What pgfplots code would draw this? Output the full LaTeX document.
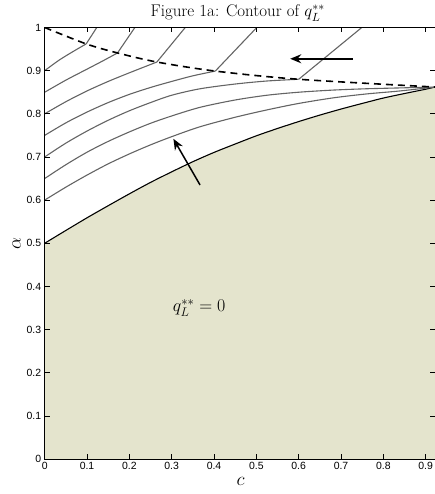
\documentclass[border=0pt]{standalone}
\usepackage{fix-cm}
\usepackage{pgfplots}
\pgfplotsset{compat=1.18}
\usepackage{fontspec}
\usetikzlibrary{arrows.meta}
\newfontfamily\ticksf{Liberation Sans}
\definecolor{regionfill}{RGB}{228,228,205}
\definecolor{contourgray}{RGB}{100,100,100}

\begin{document}
\begin{tikzpicture}
\useasboundingbox (-44.7bp,-35bp) rectangle (390.3bp,459bp);
\begin{axis}[
  name=main,
  scale only axis,
  width=390.3bp, height=431.5bp,
  xmin=0, xmax=0.922, ymin=0, ymax=1,
  axis line style={line width=0.9bp},
  xtick={0,0.1,0.2,0.3,0.4,0.5,0.6,0.7,0.8,0.9},
  xticklabels={0,0.1,0.2,0.3,0.4,0.5,0.6,0.7,0.8,0.9},
  ytick={0,0.1,0.2,0.3,0.4,0.5,0.6,0.7,0.8,0.9,1},
  yticklabels={0,0.1,0.2,0.3,0.4,0.5,0.6,0.7,0.8,0.9,1},
  tick align=inside,
  major tick length=5bp,
  tick style={black, line width=0.6bp},
  tick label style={font=\ticksf\fontsize{10.5}{12}\selectfont},
  /pgf/number format/assume math mode=true,
  xlabel={$c$},
  xlabel style={font=\fontsize{19}{22}\selectfont, at={(axis description cs:0.502,-0.052)}, anchor=center},
  ylabel={$\alpha$},
  ylabel style={font=\fontsize{19}{22}\selectfont, at={(axis description cs:-0.072,0.5)}, anchor=center, rotate=0},
  axis on top,
  clip=true,
]
% region where q_L^{**} = 0
\addplot[fill=regionfill, draw=none, smooth] coordinates {
  (0,0.5) (0.05,0.5297) (0.1,0.559) (0.15,0.587) (0.2,0.6145) (0.25,0.641)
  (0.3,0.6655) (0.35,0.689) (0.4,0.7105) (0.45,0.730) (0.5,0.749) (0.55,0.766)
  (0.6,0.782) (0.65,0.797) (0.7,0.811) (0.75,0.824) (0.8,0.8365) (0.85,0.847)
  (0.9,0.857) (0.922,0.862)
} \closedcycle;
% boundary
\addplot[black, line width=1.1bp, smooth] coordinates {
  (0,0.5) (0.05,0.5297) (0.1,0.559) (0.15,0.587) (0.2,0.6145) (0.25,0.641)
  (0.3,0.6655) (0.35,0.689) (0.4,0.7105) (0.45,0.730) (0.5,0.749) (0.55,0.766)
  (0.6,0.782) (0.65,0.797) (0.7,0.811) (0.75,0.824) (0.8,0.8365) (0.85,0.847)
  (0.9,0.857) (0.922,0.862)
};
% contour levels
\addplot[contourgray, line width=1.1bp, smooth] coordinates {
  (0,0.6) (0.05,0.630) (0.1,0.658) (0.15,0.684) (0.2,0.707) (0.25,0.728)
  (0.3,0.747) (0.367,0.77) (0.45,0.792) (0.525,0.809) (0.6,0.824) (0.682,0.837)
  (0.76,0.846) (0.84,0.853) (0.922,0.862)
};
\addplot[contourgray, line width=1.1bp, smooth] coordinates {
  (0,0.65) (0.05,0.682) (0.1,0.711) (0.15,0.736) (0.2,0.758) (0.25,0.778)
  (0.3,0.795) (0.367,0.815) (0.45,0.832) (0.525,0.843) (0.6,0.850) (0.682,0.855)
  (0.76,0.858) (0.84,0.860) (0.922,0.862)
};
\addplot[contourgray, line width=1.1bp, smooth] coordinates {
  (0,0.7) (0.05,0.732) (0.1,0.760) (0.15,0.785) (0.2,0.807) (0.25,0.826)
  (0.3,0.843) (0.367,0.858) (0.45,0.869) (0.525,0.876) (0.6,0.880)
};
\addplot[contourgray, line width=1.1bp] coordinates {(0.6,0.880) (0.749,1)};
\addplot[contourgray, line width=1.1bp, smooth] coordinates {
  (0,0.75) (0.05,0.779) (0.1,0.804) (0.15,0.826) (0.2,0.845) (0.25,0.861)
  (0.3,0.875) (0.35,0.888) (0.403,0.899)
};
\addplot[contourgray, line width=1.1bp] coordinates {(0.403,0.899) (0.501,1)};
\addplot[contourgray, line width=1.1bp, smooth] coordinates {
  (0,0.8) (0.05,0.828) (0.1,0.853) (0.15,0.875) (0.2,0.895) (0.265,0.920)
};
\addplot[contourgray, line width=1.1bp] coordinates {(0.265,0.920) (0.332,1)};
\addplot[contourgray, line width=1.1bp, smooth] coordinates {
  (0,0.85) (0.05,0.878) (0.1,0.9035) (0.14,0.924) (0.172,0.941)
};
\addplot[contourgray, line width=1.1bp] coordinates {(0.172,0.941) (0.213,1)};
\addplot[contourgray, line width=1.1bp, smooth] coordinates {
  (0,0.9) (0.035,0.925) (0.07,0.946) (0.098,0.962)
};
\addplot[contourgray, line width=1.1bp] coordinates {(0.098,0.962) (0.123,1)};
% locus of the kinks
\addplot[black, line width=1.6bp, dash pattern=on 7bp off 5bp, smooth] coordinates {
  (0,1) (0.098,0.962) (0.172,0.941) (0.265,0.920) (0.403,0.899) (0.600,0.880) (0.922,0.862)
};
% direction arrows
\addplot[black, line width=1.5bp, -{Stealth[length=11bp,width=9bp]}] coordinates {(0.728,0.9275) (0.580,0.9275)};
\addplot[black, line width=1.5bp, -{Stealth[length=11bp,width=9bp]}] coordinates {(0.367,0.635) (0.304,0.742)};
\node[font=\fontsize{18}{21}\selectfont] at (axis cs:0.365,0.35) {$q_L^{**}=0$};
\end{axis}
% figure title
\node[font=\fontsize{17}{20}\selectfont, anchor=center, inner sep=0pt] at (193bp,446bp) {Figure 1a: Contour of $q_L^{**}$};
\end{tikzpicture}
\end{document}
